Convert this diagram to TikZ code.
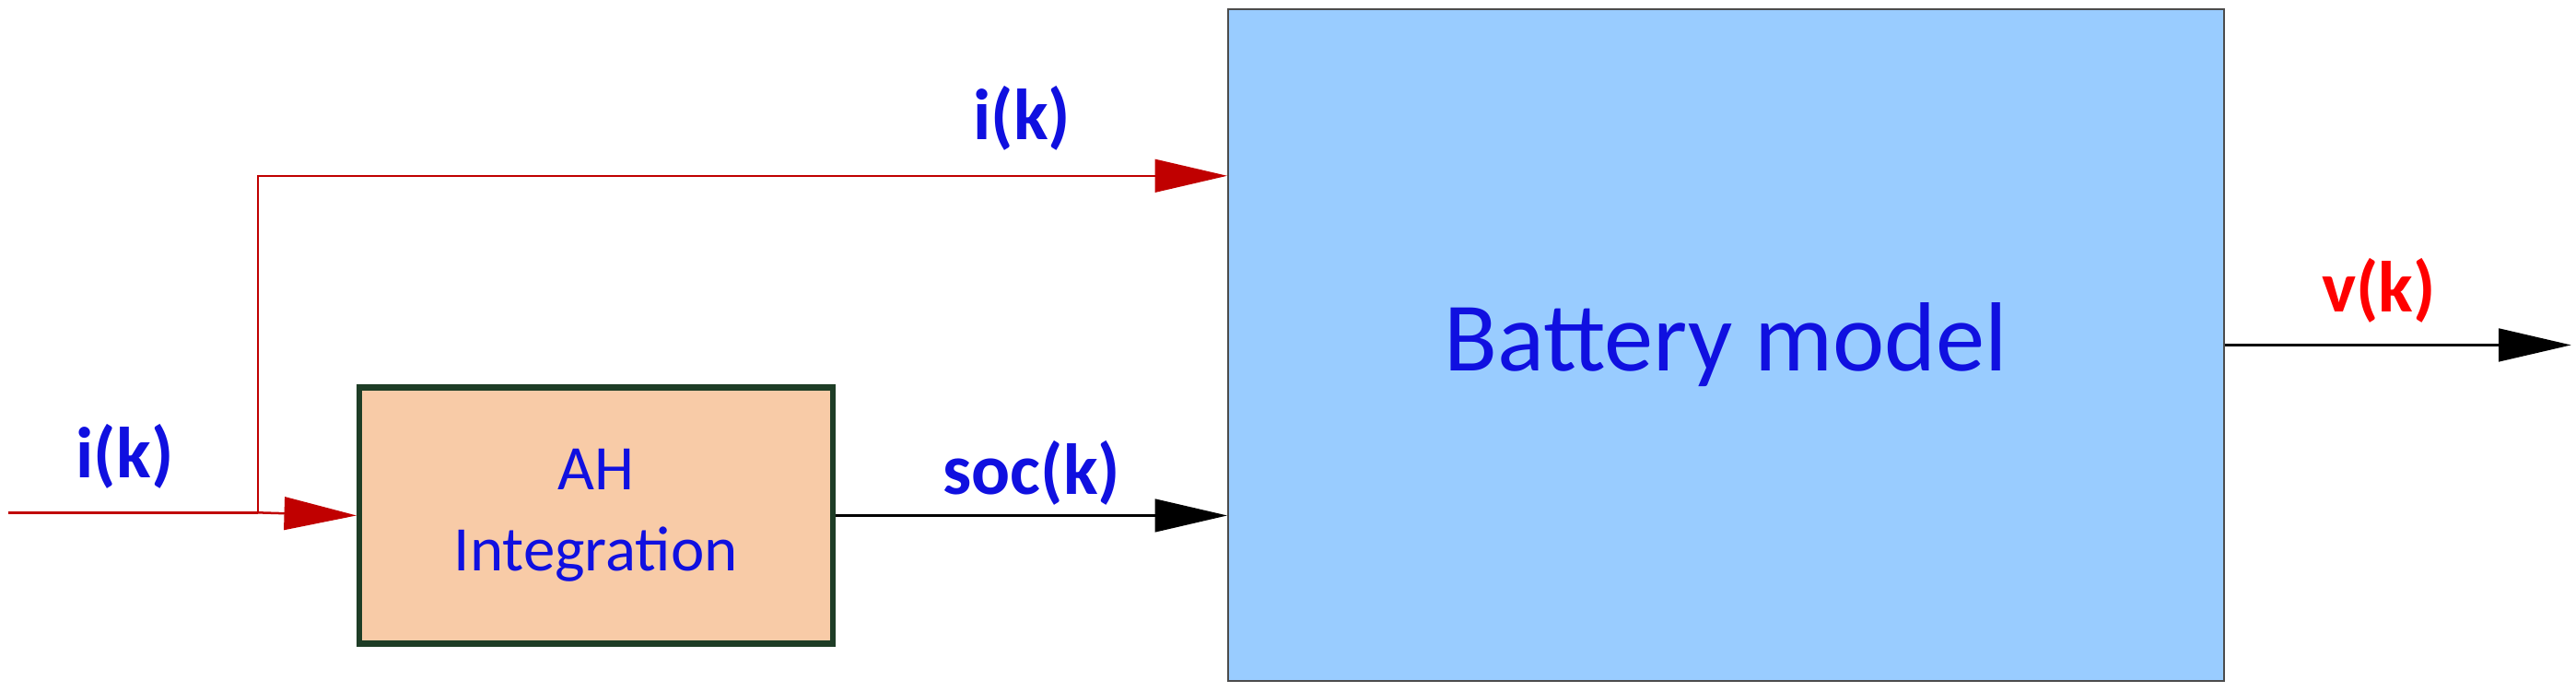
\documentclass[tikz,border=0pt]{standalone}
\usepackage{fontspec}
\setmainfont{Carlito}
\usetikzlibrary{arrows.meta}
\definecolor{bat}{HTML}{99CCFF}
\definecolor{ah}{HTML}{F8CBA7}
\definecolor{ahb}{HTML}{1E3D26}
\definecolor{lab}{HTML}{1010E0}
\definecolor{redl}{HTML}{C00000}
\tikzset{
 tip/.style={-{Triangle[length=0.88cm,width=0.4cm]}},
 lbl/.style={font=\fontsize{25}{30}\selectfont\bfseries, text=lab},
}
\begin{document}
\begin{tikzpicture}[x=0.02cm,y=-0.02cm]
\useasboundingbox (0,0) rectangle (1568,421);
\node[draw=black!70, line width=0.6pt, fill=bat, minimum width=606*0.02cm, minimum height=409*0.02cm, anchor=north west, inner sep=0, text=lab, font=\fontsize{34}{40}\selectfont] (bm) at (747,5) {Battery model};
\node[draw=ahb, line width=2pt, fill=ah, minimum width=288*0.02cm, minimum height=156*0.02cm, anchor=north west, inner sep=0, text=lab, align=center, font=\fontsize{22}{28}\selectfont] (ah) at (217,234) {AH\\Integration};
\coordinate (in) at (5,312);
\coordinate (br) at (157,312);
\coordinate (top) at (157,107);
\coordinate (out) at (1565,210);
\draw[redl, line width=0.8pt] (in) -- (br);
\draw[redl, line width=0.8pt, tip] (br) -- (ah.west);
\draw[redl, line width=0.8pt, tip] (br) -- (top) -- (bm.west |- top);
\draw[black, line width=0.8pt, tip] (ah.east) -- (bm.west |- ah.east);
\draw[black, line width=0.8pt, tip] (bm.east |- out) -- (out);
\node[lbl] (l1) at (76,278) {i(k)};
\node[lbl] (l2) at (622,72) {i(k)};
\node[lbl] (l3) at (628,288) {soc(k)};
\node[lbl, text=red] (l4) at (1448,177) {v(k)};
\end{tikzpicture}
\end{document}
